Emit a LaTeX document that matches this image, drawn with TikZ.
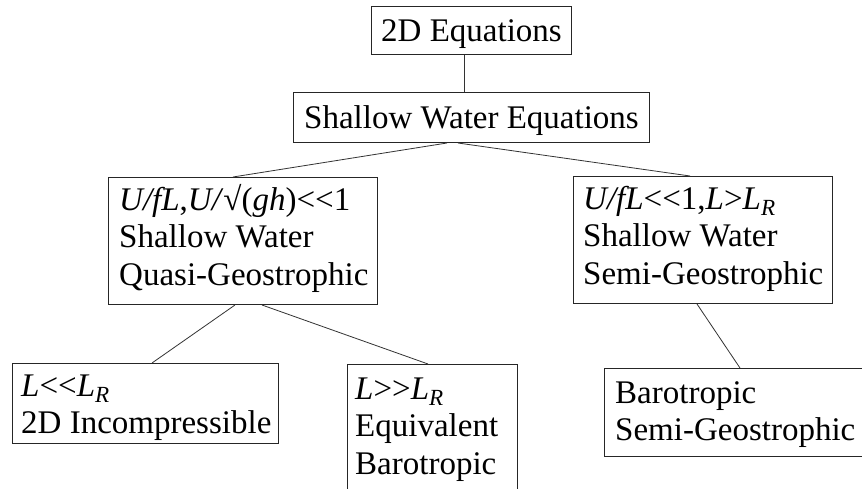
\documentclass[tikz,border=0pt]{standalone}
\usepackage{fontspec}
\setmainfont{Liberation Serif}
\usetikzlibrary{calc}
\newcommand{\llt}{<\kern0pt<}
\newcommand{\ggt}{>\kern0pt>}
\begin{document}
\begin{tikzpicture}[x=1pt,y=-1pt,
  box/.style={draw=black!85, line width=1pt, inner sep=0pt, anchor=north west},
  one/.style={font=\fontsize{33}{37.5}\selectfont, text height=22pt, text depth=0pt, anchor=north west},
  lbl/.style={inner sep=0pt, anchor=north west, align=left, font=\fontsize{33}{37.5}\selectfont},
  link/.style={draw=black!80, line width=0.8pt}]
\clip (0,0) rectangle (862,489);
\fill[white] (0,0) rectangle (862,489);

% boxes
\node[box, one, minimum width=200, minimum height=48] (eq2d) at (371,6) {2D Equations};
\node[box, one, minimum width=356, minimum height=50] (swe) at (293,92) {Shallow Water Equations};
\node[box, minimum width=269, minimum height=127] (qg) at (108,177) {};
\node[box, minimum width=259, minimum height=127] (sg) at (573,176) {};
\node[box, minimum width=266, minimum height=80] (inc) at (12,363) {};
\node[box, minimum width=170, minimum height=140] (eb) at (347,364) {};
\node[box, minimum width=270, minimum height=88] (bsg) at (604,368) {};

% texts
\node[lbl] (qgT) at ([xshift=11,yshift=-6.75]qg.north west)
  {\strut\textit{U/fL},\textit{U/}√(\textit{gh})\llt1\\Shallow Water\\Quasi-Geostrophic};
\node[lbl] (sgT) at ([xshift=10,yshift=-6.75]sg.north west)
  {\strut\textit{U/fL}\llt1,\textit{L}>\textit{L}\textsubscript{\textit{R}}\\Shallow Water\\Semi-Geostrophic};
\node[lbl] (incT) at ([xshift=9,yshift=-6.75]inc.north west)
  {\strut\textit{L}\llt\textit{L}\textsubscript{\textit{R}}\\2D Incompressible};
\node[lbl] (ebT) at ([xshift=8,yshift=-8.75]eb.north west)
  {\strut\textit{L}\ggt\textit{L}\textsubscript{\textit{R}}\\Equivalent\\Barotropic};
\node[lbl] (bsgT) at ([xshift=11,yshift=-8.75]bsg.north west)
  {\strut Barotropic\\Semi-Geostrophic};

% connectors
\draw[link] ([xshift=-7]eq2d.south) -- ([xshift=-7]swe.north);
\draw[link] ([xshift=154]swe.south west) -- ([xshift=125]qg.north west);
\draw[link] ([xshift=165]swe.south west) -- ([xshift=117]sg.north west);
\draw[link] ([xshift=127]qg.south west) -- ([xshift=140]inc.north west);
\draw[link] ([xshift=154]qg.south west) -- ([xshift=81]eb.north west);
\draw[link] ([xshift=124]sg.south west) -- ([xshift=136]bsg.north west);
\end{tikzpicture}
\end{document}
